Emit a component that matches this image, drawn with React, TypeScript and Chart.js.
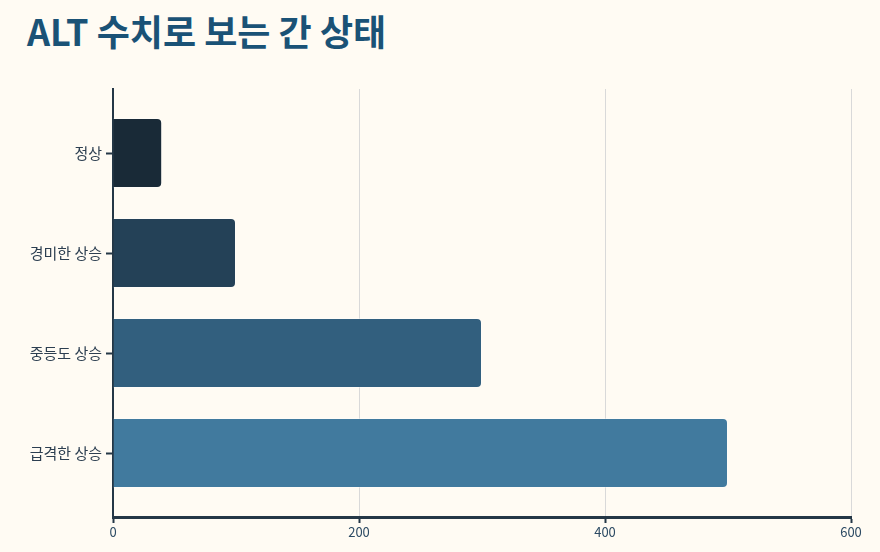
import React, { useEffect, useRef } from "react";
import { Chart, registerables } from "chart.js";

Chart.register(...registerables);

const title = "ALT 수치로 보는 간 상태";
const categories = ["정상", "경미한 상승", "중등도 상승", "급격한 상승"];
const altValues = [40, 100, 300, 500];
const barColors = ["#192a37", "#244157", "#325f7e", "#417a9e"];
const xTicks = [0, 200, 400, 600];

const FONT = "'Noto Sans CJK KR', 'Noto Sans', sans-serif";
const AXIS = "#243746";

export default function App() {
  const ref = useRef<HTMLCanvasElement | null>(null);

  useEffect(() => {
    if (!ref.current) return;
    const chart = new Chart(ref.current, {
      type: "bar",
      data: {
        datasets: [
          {
            data: altValues.map((v, i) => ({ x: v, y: i })),
            backgroundColor: barColors,
            borderColor: "rgba(255,255,255,0.35)",
            borderWidth: 1,
            borderRadius: 5,
            barPercentage: 0.7,
            categoryPercentage: 1,
          },
        ],
      },
      options: {
        indexAxis: "y",
        animation: false,
        responsive: true,
        maintainAspectRatio: false,
        layout: { padding: { top: 89, right: 29, bottom: 5, left: 0 } },
        plugins: { legend: { display: false }, tooltip: { enabled: false } },
        scales: {
          x: {
            type: "linear",
            min: xTicks[0],
            max: xTicks[xTicks.length - 1],
            afterBuildTicks: (s: any) => {
              s.ticks = xTicks.map((v) => ({ value: v }));
            },
            afterFit: (s: any) => {
              s.height = 30;
            },
            grid: {
              color: "#d9d9d9",
              lineWidth: 1,
              tickColor: AXIS,
              tickWidth: 2,
              tickLength: 6,
            },
            border: { display: true, color: AXIS, width: 3 },
            ticks: {
              color: "#2c4a63",
              font: { family: FONT, size: 13 },
              padding: 1,
            },
          },
          y: {
            type: "linear",
            reverse: true,
            offset: false,
            min: -0.64,
            max: 3.64,
            bounds: "data",
            afterBuildTicks: (s: any) => {
              s.ticks = categories.map((_, i) => ({ value: i }));
            },
            afterFit: (s: any) => {
              s.width = 113;
            },
            grid: {
              offset: false,
              drawOnChartArea: false,
              tickColor: AXIS,
              tickWidth: 2,
              tickLength: 7,
            },
            border: { display: true, color: AXIS, width: 2 },
            ticks: {
              color: "#2c3e50",
              font: { family: FONT, size: 15 },
              padding: 4,
              autoSkip: false,
              callback: (v: any) => categories[v as number] ?? "",
            },
          },
        },
      },
    });
    return () => chart.destroy();
  }, []);

  return (
    <div
      style={{
        position: "fixed",
        left: 0,
        top: 0,
        width: 880,
        height: 552,
        background: "#fffbf3",
      }}
    >
      <div
        style={{
          position: "absolute",
          left: 27,
          top: 4,
          fontFamily: FONT,
          fontWeight: 700,
          fontSize: 36,
          color: "#1a5276",
          whiteSpace: "nowrap",
          lineHeight: "52px",
        }}
      >
        {title}
      </div>
      <div style={{ position: "absolute", left: 0, top: 0, width: 880, height: 552 }}>
        <canvas ref={ref} />
      </div>
    </div>
  );
}
